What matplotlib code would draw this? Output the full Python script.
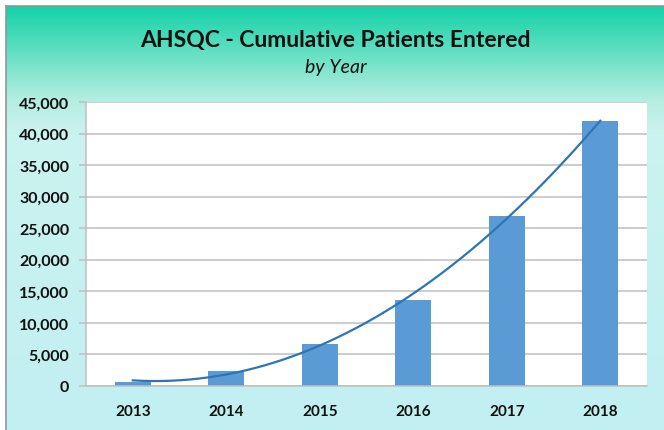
import numpy as np
import matplotlib.pyplot as plt
from matplotlib.colors import LinearSegmentedColormap
from matplotlib.ticker import FuncFormatter

years = ['2013', '2014', '2015', '2016', '2017', '2018']
patients = [600, 2330, 6700, 13700, 27000, 42000]

title = 'AHSQC - Cumulative Patients Entered'
subtitle = 'by Year'

plt.rcParams['font.family'] = ['Lato', 'DejaVu Sans']

fig = plt.figure(figsize=(6.64, 4.31), dpi=100)

# background panel with vertical gradient
bg = fig.add_axes([6 / 664, 0, 1 - 6 / 664, 1 - 7 / 431])
grad = LinearSegmentedColormap.from_list('bg', [
    (0.0, '#c2eff3'),
    (0.7, '#cbf3ee'),
    (0.78, '#b5eee0'),
    (1.0, '#14d2a8'),
])
bg.imshow(np.linspace(0, 1, 256).reshape(-1, 1), aspect='auto', cmap=grad,
          origin='lower', extent=[0, 1, 0, 1])
bg.set_xlim(0, 1)
bg.set_ylim(0, 1)
bg.set_xticks([])
bg.set_yticks([])
for side in ['right', 'bottom']:
    bg.spines[side].set_visible(False)
for side in ['left', 'top']:
    bg.spines[side].set_color('#8a9a96')
    bg.spines[side].set_linewidth(1.2)

fig.text(0.505, 1 - 40 / 431, title, ha='center', va='center',
         fontsize=16.5, fontweight='bold', color='#111111')
fig.text(0.505, 1 - 68 / 431, subtitle, ha='center', va='center',
         fontsize=14, style='italic', color='#111111')

ax = fig.add_axes([86 / 664, 1 - 387 / 431, (647 - 86) / 664, 284 / 431])
ax.set_facecolor('white')
x = np.arange(len(years))
ax.bar(x, patients, width=0.38, color='#5b9bd5', zorder=2)

# polynomial trendline like Excel
coef = np.polyfit(x, patients, 2)
xs = np.linspace(x[0], x[-1], 200)
ax.plot(xs, np.polyval(coef, xs), color='#2e75b6', lw=1.6, zorder=3)

ax.set_xlim(-0.5, len(years) - 0.5)
ax.set_ylim(0, 45000)
ax.set_yticks(np.arange(0, 45001, 5000))
ax.yaxis.set_major_formatter(FuncFormatter(lambda v, p: '{:,.0f}'.format(v)))
ax.set_xticks(x)
ax.set_xticklabels(years)
ax.grid(axis='y', color='#bfbfbf', lw=1.1, zorder=0)
ax.set_axisbelow(True)
for side in ['top', 'right']:
    ax.spines[side].set_visible(False)
for side in ['left', 'bottom']:
    ax.spines[side].set_color('#bfbfbf')
    ax.spines[side].set_linewidth(1.1)
ax.tick_params(axis='y', length=5, color='#bfbfbf', width=1.1, pad=7,
               labelsize=11.5, labelcolor='#111111')
ax.tick_params(axis='x', length=0, pad=13, labelsize=11, labelcolor='#111111')
for lab in ax.get_xticklabels() + ax.get_yticklabels():
    lab.set_fontweight('bold')

fig.savefig('out.png', dpi=100)
